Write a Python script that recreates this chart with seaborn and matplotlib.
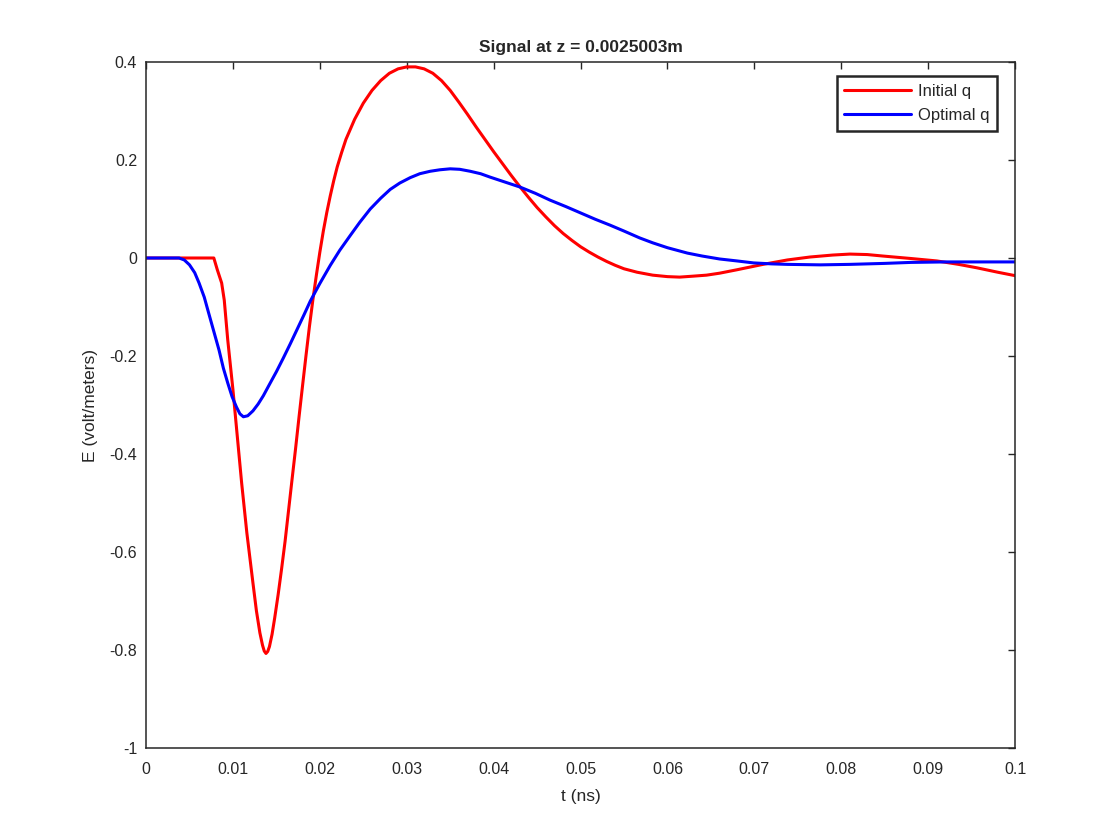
import numpy as np
import pandas as pd
import seaborn as sns
import matplotlib.pyplot as plt

# signal values
t_initial = [0, 0.0078, 0.0082, 0.0087, 0.0090, 0.0094, 0.0100, 0.0104, 0.0110, 0.0116,
             0.0123, 0.0127, 0.0131, 0.0134, 0.0136, 0.0138, 0.0140, 0.0142, 0.0145,
             0.0148, 0.0152, 0.0156, 0.0160, 0.0164, 0.0168, 0.0172, 0.0176, 0.0180,
             0.0184, 0.0188, 0.0192, 0.0196, 0.0200, 0.0204, 0.0208, 0.0212, 0.0216,
             0.0220, 0.0225, 0.0230, 0.0240, 0.0250, 0.0260, 0.0270, 0.0280, 0.0290,
             0.0300, 0.0310, 0.0320, 0.0330, 0.0340, 0.0350, 0.0360, 0.0370, 0.0380,
             0.0390, 0.0400, 0.0410, 0.0420, 0.0430, 0.0440, 0.0450, 0.0460, 0.0470,
             0.0480, 0.0490, 0.0500, 0.0510, 0.0520, 0.0530, 0.0540, 0.0550, 0.0565,
             0.0583, 0.0600, 0.0614, 0.0630, 0.0645, 0.0660, 0.0680, 0.0710, 0.0738,
             0.0764, 0.0790, 0.0810, 0.0830, 0.0848, 0.0880, 0.0910, 0.0935, 0.0956,
             0.0980, 0.1000]
e_initial = [0, 0, -0.024, -0.051, -0.086, -0.167, -0.269, -0.345, -0.459, -0.561,
             -0.663, -0.72, -0.765, -0.790, -0.802, -0.807, -0.803, -0.793, -0.768,
             -0.735, -0.687, -0.634, -0.578, -0.515, -0.452, -0.390, -0.325, -0.262,
             -0.200, -0.140, -0.085, -0.035, 0.012, 0.055, 0.093, 0.127, 0.158,
             0.186, 0.215, 0.242, 0.283, 0.316, 0.342, 0.362, 0.377, 0.386,
             0.390, 0.390, 0.386, 0.377, 0.362, 0.342, 0.318, 0.293, 0.267,
             0.242, 0.217, 0.193, 0.169, 0.146, 0.124, 0.103, 0.084, 0.066,
             0.050, 0.036, 0.023, 0.012, 0.002, -0.007, -0.015, -0.022, -0.029,
             -0.035, -0.038, -0.039, -0.037, -0.035, -0.031, -0.024, -0.013, -0.004,
             0.002, 0.006, 0.008, 0.007, 0.004, -0.001, -0.006, -0.013, -0.020,
             -0.029, -0.036]

t_optimal = [0, 0.0038, 0.0044, 0.0050, 0.0056, 0.0061, 0.0067, 0.0072, 0.0078, 0.0084,
             0.0089, 0.0094, 0.0099, 0.0104, 0.0108, 0.0112, 0.0117, 0.0123, 0.0129,
             0.0135, 0.0142, 0.0150, 0.0158, 0.0166, 0.0174, 0.0182, 0.0189, 0.0200,
             0.0212, 0.0223, 0.0235, 0.0246, 0.0258, 0.0270, 0.0281, 0.0292, 0.0304,
             0.0315, 0.0327, 0.0338, 0.0350, 0.0361, 0.0373, 0.0385, 0.0396, 0.0413,
             0.0430, 0.0448, 0.0465, 0.0483, 0.0500, 0.0517, 0.0534, 0.0550, 0.0568,
             0.0583, 0.0600, 0.0623, 0.0640, 0.0660, 0.0680, 0.0699, 0.0720, 0.0738,
             0.0776, 0.0810, 0.0850, 0.0880, 0.0920, 0.1000]
e_optimal = [0, 0, -0.004, -0.014, -0.030, -0.051, -0.080, -0.112, -0.150, -0.188,
             -0.225, -0.255, -0.283, -0.304, -0.318, -0.324, -0.322, -0.312, -0.298,
             -0.281, -0.258, -0.232, -0.204, -0.175, -0.145, -0.115, -0.088, -0.052,
             -0.015, 0.016, 0.046, 0.073, 0.100, 0.122, 0.140, 0.153, 0.164,
             0.172, 0.177, 0.180, 0.182, 0.181, 0.177, 0.172, 0.165, 0.155,
             0.145, 0.132, 0.118, 0.105, 0.092, 0.079, 0.067, 0.055, 0.041,
             0.031, 0.021, 0.010, 0.004, -0.002, -0.006, -0.010, -0.012, -0.013,
             -0.014, -0.013, -0.011, -0.009, -0.008, -0.008]

df = pd.concat([
    pd.DataFrame({"t": t_initial, "E": e_initial, "series": "Initial q"}),
    pd.DataFrame({"t": t_optimal, "E": e_optimal, "series": "Optimal q"}),
])

sns.set_style("white")
plt.rcParams['font.family'] = ['Liberation Sans', 'DejaVu Sans']

axcol = '#262626'
fig = plt.figure(figsize=(11.2, 8.4), dpi=100)
ax = fig.add_axes([0.1304, 0.1095, 0.7759, 0.8167])

sns.lineplot(data=df, x="t", y="E", hue="series", palette={"Initial q": "#ff0000", "Optimal q": "#0000ff"},
             sort=False, estimator=None, linewidth=2.2, ax=ax)
for ln in ax.get_lines():
    ln.set_solid_joinstyle('round')

ax.set_xlim(0, 0.1)
ax.set_ylim(-1, 0.4)
xt = np.round(np.arange(0, 0.1001, 0.01), 2)
yt = np.round(np.arange(-1, 0.401, 0.2), 1)
ax.set_xticks(xt)
ax.set_xticklabels(["0" if v == 0 else f"{v:g}" for v in xt])
ax.set_yticks(yt)
ax.set_yticklabels(["0" if v == 0 else f"{v:g}" for v in yt])
ax.tick_params(direction='in', length=5, width=1, colors=axcol, labelsize=11.5,
               top=True, right=True, labelcolor='#262626')
ax.tick_params(axis='x', pad=10)
ax.tick_params(axis='y', pad=6.5)
for s in ax.spines.values():
    s.set_visible(True)
    s.set_color(axcol)
    s.set_linewidth(1.1)

ax.set_xlabel("t (ns)", fontsize=12.5, color=axcol, labelpad=9)
ax.set_ylabel("E (volt/meters)", fontsize=12.5, color=axcol, labelpad=8)
ax.set_title("Signal at z = 0.0025003m", fontsize=12.5, fontweight='bold', pad=7)

leg = ax.legend(loc='upper right', fontsize=12, frameon=True, fancybox=False,
                handlelength=4.0, borderpad=0.45, labelspacing=0.55, handletextpad=0.4,
                borderaxespad=0, bbox_to_anchor=(0.979, 0.979))
leg.get_frame().set_edgecolor(axcol)
leg.get_frame().set_linewidth(1.8)
leg.get_frame().set_alpha(1)

fig.savefig("out.png", dpi=100)
